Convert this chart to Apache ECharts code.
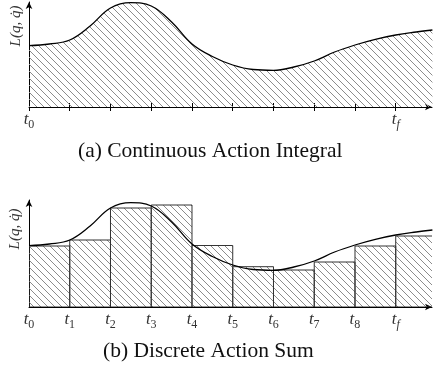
<!DOCTYPE html>
<html>
<head>
<meta charset="utf-8">
<script src="https://cdn.jsdelivr.net/npm/echarts@6/dist/echarts.min.js"></script>
<style>
html, body { margin: 0; padding: 0; background: #fff; }
#main { width: 434px; height: 367px; }
</style>
</head>
<body>
<div id="main"></div>
<script>
// tick positions t0..tf and their subscripts
const tickValues = [0, 1, 2, 3, 4, 5, 6, 7, 8, 9]
const tickNames = ['0', '1', '2', '3', '4', '5', '6', '7', '8', 'f']
const topLabelValues = [0, 9]

// L(q, q̇) (in px above the axis)
const curveT = [0, 0.5, 1, 1.5, 2, 2.5, 3, 3.5, 4, 4.5, 5, 5.5, 6, 6.5, 7, 7.5, 8, 8.5, 9, 9.5, 9.9]
const curveL = [61.3, 63, 67, 81, 99, 104.3, 101, 85, 63, 50.5, 42, 37.5, 36.7, 40, 46, 55, 62, 67.7, 72, 75, 77]

// discrete sum: one bar per step, height taken at its left end
const barStart = [0, 1, 2, 3, 4, 5, 6, 7, 8, 9]
const barL = [61, 67, 99, 102, 61.5, 40.3, 37, 45, 61, 71]

const xMax = 9.89
const serif = '"Liberation Serif", "DejaVu Serif", serif'

// diagonal hatch
const hatch = () => {
	const s = 7
	const c = document.createElement('canvas')
	c.width = s
	c.height = s
	const g = c.getContext('2d')
	g.strokeStyle = '#8c8c8c'
	g.lineWidth = 1
	g.beginPath()
	g.moveTo(-1, -1); g.lineTo(s + 1, s + 1)
	g.moveTo(s - 1, -1); g.lineTo(s + 1, 1)
	g.moveTo(-1, s - 1); g.lineTo(1, s + 1)
	g.stroke()
	return c
}
const pattern = { image: hatch(), repeat: 'repeat' }

const labelFmt = (v) => {
	const i = tickValues.indexOf(Math.round(v))
	return '{t|t}{' + (tickNames[i] === 'f' ? 'sf' : 's') + '|' + tickNames[i] + '}'
}
const labelRich = {
	t: { fontFamily: serif, fontStyle: 'italic', fontSize: 17, color: '#333', lineHeight: 20 },
	s: { fontFamily: serif, fontSize: 12, color: '#333', lineHeight: 22, verticalAlign: 'bottom' },
	sf: { fontFamily: serif, fontStyle: 'italic', fontSize: 12, color: '#333', lineHeight: 22, verticalAlign: 'bottom' }
}

const axisLineStyle = {
	show: true,
	onZero: false,
	symbol: ['none', 'arrow'],
	symbolSize: [5, 7],
	lineStyle: { color: '#000', width: 1 }
}

const curvePoints = curveT.map((t, i) => [t, curveL[i]])
const barPoints = barStart.map((t, i) => [t, barL[i]])

const machart = echarts.init(document.getElementById('main'))
const option = {
	animation: false,
	backgroundColor: '#fff',
	title: [
		{
			text: '(a) Continuous Action Integral',
			left: 78,
			top: 140,
			padding: 0,
			textStyle: { fontFamily: serif, fontWeight: 'normal', fontSize: 21.5, color: '#111' }
		},
		{
			text: '(b) Discrete Action Sum',
			left: 103,
			top: 340,
			padding: 0,
			textStyle: { fontFamily: serif, fontWeight: 'normal', fontSize: 21.5, color: '#111' }
		}
	],
	graphic: [
		{
			type: 'text', x: 16, y: 26, rotation: Math.PI / 2,
			style: { text: 'L(q, q̇)', font: 'italic 15px ' + serif, align: 'center', verticalAlign: 'middle', fill: '#333' }
		},
		{
			type: 'text', x: 15, y: 229, rotation: Math.PI / 2,
			style: { text: 'L(q, q̇)', font: 'italic 15px ' + serif, align: 'center', verticalAlign: 'middle', fill: '#333' }
		}
	],
	grid: [
		{ left: 29, top: 2, width: 403, height: 105 },
		{ left: 29, top: 200, width: 403, height: 107 }
	],
	xAxis: [
		{
			type: 'value', gridIndex: 0, min: 0, max: xMax,
			axisLine: axisLineStyle,
			axisTick: { show: true, length: 4, customValues: tickValues, lineStyle: { color: '#000' } },
			axisLabel: { show: true, customValues: topLabelValues, margin: 2, formatter: labelFmt, rich: labelRich },
			splitLine: { show: false }
		},
		{
			type: 'value', gridIndex: 0, min: 0, max: xMax, position: 'bottom',
			axisLine: { show: false, onZero: false },
			axisTick: { show: true, inside: true, length: 4, customValues: tickValues, lineStyle: { color: '#000' } },
			axisLabel: { show: false },
			splitLine: { show: false }
		},
		{
			type: 'value', gridIndex: 1, min: 0, max: xMax,
			axisLine: axisLineStyle,
			axisTick: { show: false },
			axisLabel: { show: true, customValues: tickValues, margin: 2, formatter: labelFmt, rich: labelRich },
			splitLine: { show: false }
		}
	],
	yAxis: [
		{
			type: 'value', gridIndex: 0, min: 0, max: 105,
			axisLine: axisLineStyle,
			axisTick: { show: false }, axisLabel: { show: false }, splitLine: { show: false }
		},
		{
			type: 'value', gridIndex: 1, min: 0, max: 107,
			axisLine: axisLineStyle,
			axisTick: { show: false }, axisLabel: { show: false }, splitLine: { show: false }
		}
	],
	series: [
		{
			type: 'line', xAxisIndex: 0, yAxisIndex: 0,
			data: curvePoints,
			smooth: 0.4,
			showSymbol: false,
			lineStyle: { color: '#000', width: 1.3 },
			areaStyle: { color: pattern, opacity: 1 },
			z: 1
		},
		{
			type: 'custom', xAxisIndex: 2, yAxisIndex: 1,
			data: barPoints,
			clip: true,
			renderItem: function (params, api) {
				const x0 = api.value(0)
				const p0 = api.coord([x0, api.value(1)])
				const p1 = api.coord([x0 + 1, 0])
				return {
					type: 'rect',
					shape: { x: p0[0], y: p0[1], width: p1[0] - p0[0], height: p1[1] - p0[1] },
					style: { fill: pattern, stroke: '#333', lineWidth: 1 }
				}
			},
			z: 1
		},
		{
			type: 'line', xAxisIndex: 2, yAxisIndex: 1,
			data: curvePoints,
			smooth: 0.4,
			showSymbol: false,
			lineStyle: { color: '#000', width: 1.3 },
			z: 3
		}
	]
}
machart.setOption(option)
</script>
</body>
</html>
